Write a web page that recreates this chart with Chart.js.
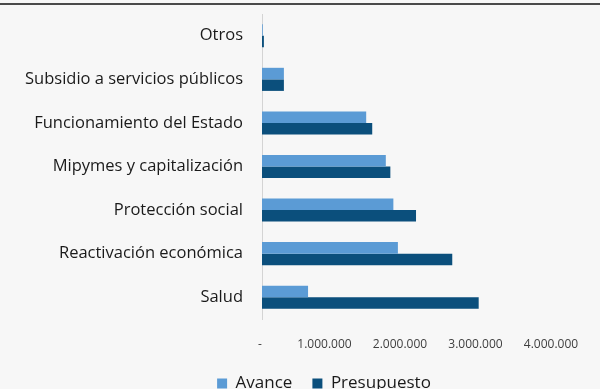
<!DOCTYPE html>
<html>
<head>
<meta charset="utf-8">
<script src="https://cdn.jsdelivr.net/npm/chart.js@4/dist/chart.umd.min.js"></script>
<style>
  html, body { margin: 0; padding: 0; background: #f7f7f7; }
  #wrap { position: relative; width: 600px; height: 389px; }
  #topline { position: absolute; left: 0; top: 3px; width: 600px; height: 2px; background: #4a4a4a; }
</style>
</head>
<body>
<div id="wrap">
  <div id="topline"></div>
  <canvas id="chart" width="600" height="389"></canvas>
</div>
<script>
var categories = ['Otros', 'Subsidio a servicios públicos', 'Funcionamiento del Estado',
    'Mipymes y capitalización', 'Protección social', 'Reactivación económica', 'Salud'];
var avance = [10000, 290000, 1380000, 1640000, 1740000, 1800000, 610000];
var presupuesto = [25000, 290000, 1460000, 1700000, 2040000, 2520000, 2870000];
var xTicks = [0, 1000000, 2000000, 3000000, 4000000];

var fmt = function(v) {
    if (v === 0) return '       -';
    return v.toString().replace(/\B(?=(\d{3})+(?!\d))/g, '.');
};

// legend sits under the plot, a bit right of the canvas centre
var legendShift = {
    id: 'legendShift',
    afterLayout: function(chart) {
        if (chart.legend) {
            chart.legend.left += 37;
            chart.legend.right += 37;
        }
    }
};

var ctx = document.getElementById('chart').getContext('2d');
var chart = new Chart(ctx, {
    type: 'bar',
    data: {
        labels: categories,
        datasets: [{
            label: 'Avance',
            backgroundColor: '#5b9bd5',
            data: avance
        }, {
            label: 'Presupuesto',
            backgroundColor: '#0b4f7c',
            data: presupuesto
        }]
    },
    plugins: [legendShift],
    options: {
        indexAxis: 'y',
        responsive: false,
        animation: false,
        layout: { padding: { top: 14, right: 36, left: 10, bottom: -13 } },
        datasets: { bar: { categoryPercentage: 0.53, barPercentage: 1.0 } },
        scales: {
            x: {
                min: 0,
                max: 4000000,
                afterBuildTicks: function(axis) {
                    axis.ticks = xTicks.map(function(v) { return { value: v }; });
                },
                afterFit: function(s) { s.height = 36; s.paddingLeft = 0; s.paddingRight = 0; },
                grid: { display: false, drawTicks: false, tickLength: 0 },
                border: { display: false },
                ticks: {
                    callback: function(v) { return fmt(v); },
                    color: '#404040',
                    font: { family: 'Open Sans', size: 12 },
                    labelOffset: -13,
                    padding: 18,
                    maxRotation: 0
                }
            },
            y: {
                afterFit: function(s) { s.width = 252; s.paddingTop = 0; s.paddingBottom = 0; },
                grid: { display: false, drawTicks: false, tickLength: 0 },
                border: { display: true, color: '#d4d4d4', width: 1 },
                ticks: {
                    color: '#1a1a1a',
                    font: { family: 'Open Sans', size: 16.5 },
                    padding: 19
                }
            }
        },
        plugins: {
            legend: {
                position: 'bottom',
                labels: {
                    boxWidth: 10,
                    boxHeight: 10,
                    color: '#1a1a1a',
                    font: { family: 'Open Sans', size: 17 },
                    padding: 20
                }
            },
            tooltip: { enabled: false }
        }
    }
});
</script>
</body>
</html>
